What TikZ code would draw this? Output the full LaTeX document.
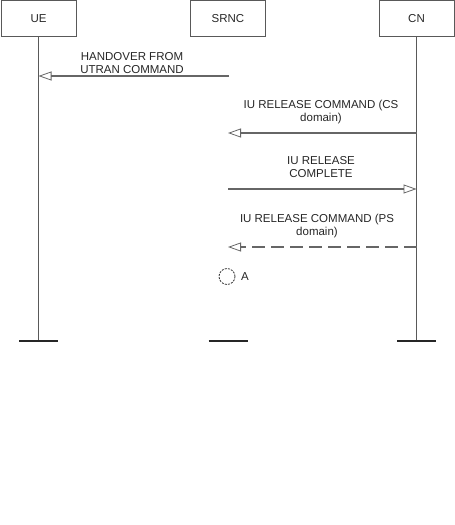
\documentclass[tikz,border=0pt]{standalone}
\usepackage{fontspec}
\setmainfont{Liberation Sans}
\usetikzlibrary{arrows.meta}
\begin{document}
\begin{tikzpicture}[x=1pt,y=-1pt,
  ent/.style={draw=black!65, line width=1pt, minimum width=75pt, minimum height=36pt, inner sep=0pt, text=black!85, font=\fontsize{11.5}{13}\selectfont},
  msg/.style={draw=black!60, line width=1.1pt, -{Triangle[open, length=13pt, width=9pt, line width=0.8pt]}},
  lbl/.style={align=center, inner sep=0pt, text=black!85, font=\fontsize{11.5}{13}\selectfont},
  life/.style={draw=black!65, line width=1pt},
  bar/.style={draw=black!85, line width=1.1pt}]
\useasboundingbox (0,0) rectangle (455,525);
% entities
\node[ent] (ue) at (38.5,18.5) {UE};
\node[ent] (srnc) at (228,18.5) {SRNC};
\node[ent] (cn) at (416.5,18.5) {CN};
% lifeline ends
\coordinate (ueb) at (38.5,341);
\coordinate (srncb) at (228,341);
\coordinate (cnb) at (416.5,341);
\draw[life] (ue.south) -- (ueb);
\draw[life] (cn.south) -- (cnb);
\draw[bar] ([xshift=-19.5pt]ueb) -- ([xshift=19.5pt]ueb);
\draw[bar] ([xshift=-19.5pt]srncb) -- ([xshift=19.5pt]srncb);
\draw[bar] ([xshift=-19.5pt]cnb) -- ([xshift=19.5pt]cnb);
% message 1
\coordinate (m1) at (229,76);
\node[lbl] (l1) at (132,63) {HANDOVER FROM\\UTRAN COMMAND};
\draw[msg] (m1) -- (m1 -| ue);
% message 2
\coordinate (m2) at (228,133);
\node[lbl] (l2) at (321,112) {IU RELEASE COMMAND (CS\\domain)};
\draw[msg] (m2 -| cn) -- (m2);
% message 3
\coordinate (m3) at (228,189);
\node[lbl] (l3) at (321,167) {IU RELEASE\\COMPLETE};
\draw[msg] (m3) -- (m3 -| cn);
% message 4
\coordinate (m4) at (228,247);
\node[lbl] (l4) at (317,226) {IU RELEASE COMMAND (PS\\domain)};
\draw[msg, dash pattern=on 13pt off 6pt] (m4 -| cn) -- (m4);
% state A
\node[draw=black!80, line width=0.8pt, dash pattern=on 2pt off 1.2pt, circle, minimum size=16pt, inner sep=0pt] (a) at (227,276.5) {};
\node[lbl, anchor=west] (alab) at (241,276.5) {A};
\end{tikzpicture}
\end{document}
